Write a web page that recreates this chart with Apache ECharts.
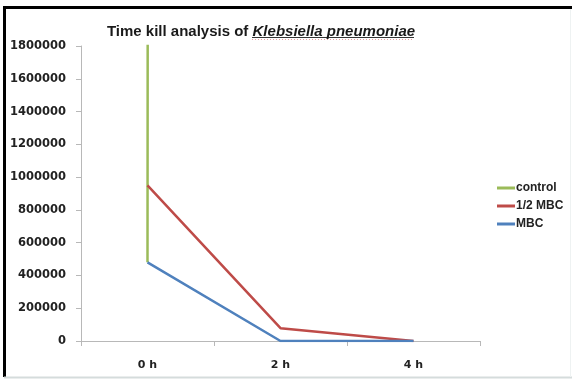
<!DOCTYPE html>
<html>
<head>
<meta charset="utf-8">
<script src="https://cdn.jsdelivr.net/npm/echarts@6/dist/echarts.min.js"></script>
<style>
html,body{margin:0;padding:0;background:#fff;}
#c{width:572px;height:379px;}
</style>
</head>
<body>
<div id="c"></div>
<script>
var categories = ['0 h', '2 h', '4 h'];
var controlValues = [480000, 1000000000, 1000000000];
var halfMbcValues = [950000, 78000, 0];
var mbcValues = [480000, 0, 0];
var yTicks = [0, 200000, 400000, 600000, 800000, 1000000, 1200000, 1400000, 1600000, 1800000];

var chart = echarts.init(document.getElementById('c'), null, {renderer: 'canvas'});
var labFont = '"DejaVu Sans", sans-serif';
var titleFont = '"Liberation Sans", Arial, sans-serif';
chart.setOption({
  animation: false,
  backgroundColor: '#fff',
  title: {
    text: '{a|Time kill analysis of }{b|Klebsiella pneumoniae}',
    left: 256, top: 19, textAlign: 'center',
    textStyle: {
      rich: {
        a: {fontFamily: titleFont, fontWeight: 'bold', fontSize: 15, color: '#1a1a1a'},
        b: {fontFamily: titleFont, fontWeight: 'bold', fontStyle: 'italic', fontSize: 15, color: '#1a1a1a'}
      }
    }
  },
  legend: {
    orient: 'vertical', left: 492, top: 177, itemGap: 6,
    itemWidth: 18, itemHeight: 3, icon: 'rect',
    textStyle: {fontFamily: titleFont, fontWeight: 'bold', fontSize: 12, color: '#222', padding: [0,0,0,-4]},
    data: ['control', '1/2 MBC', 'MBC']
  },
  grid: {left: 81, right: 92, top: 46, bottom: 38},
  xAxis: {
    type: 'category', data: categories, boundaryGap: true,
    axisLine: {lineStyle: {color: '#b8b8b8', width: 1}},
    axisTick: {show: true, alignWithLabel: false, length: 5, lineStyle: {color: '#b8b8b8'}},
    axisLabel: {fontFamily: labFont, fontWeight: 'bold', fontSize: 11, color: '#222', margin: 19}
  },
  yAxis: {
    type: 'value', min: 0, max: 1800000, interval: 200000,
    axisLine: {show: true, lineStyle: {color: '#b8b8b8', width: 1}},
    axisTick: {show: true, length: 5, lineStyle: {color: '#b8b8b8'}},
    splitLine: {show: false},
    axisLabel: {fontFamily: labFont, fontWeight: 'bold', fontSize: 11.5, color: '#222', margin: 15,
      formatter: function (v) { return yTicks.indexOf(v) >= 0 ? String(v) : ''; }}
  },
  series: [
    {name: 'control', type: 'line', data: controlValues, symbol: 'none', clip: true,
      lineStyle: {color: '#9bbb59', width: 2.5}, itemStyle: {color: '#9bbb59'}, z: 1},
    {name: '1/2 MBC', type: 'line', data: halfMbcValues, symbol: 'none',
      lineStyle: {color: '#be4b48', width: 2.5}, itemStyle: {color: '#be4b48'}, z: 2},
    {name: 'MBC', type: 'line', data: mbcValues, symbol: 'none',
      lineStyle: {color: '#4f81bd', width: 2.5}, itemStyle: {color: '#4f81bd'}, z: 3}
  ],
  graphic: [
    {type: 'line', shape: {x1: 4, y1: 7.5, x2: 572, y2: 7.5}, style: {stroke: '#000', lineWidth: 3}, silent: true},
    {type: 'line', shape: {x1: 4.5, y1: 6, x2: 4.5, y2: 377}, style: {stroke: '#000', lineWidth: 3}, silent: true},
    {type: 'line', shape: {x1: 4, y1: 377.5, x2: 572, y2: 377.5}, style: {stroke: '#d5dcdc', lineWidth: 2}, silent: true},
    {type: 'line', shape: {x1: 570.5, y1: 9, x2: 570.5, y2: 377}, style: {stroke: '#eef2f2', lineWidth: 1}, silent: true},
    {type: 'line', shape: {x1: 252, y1: 37.5, x2: 414, y2: 37.5}, style: {stroke: '#333', lineWidth: 1}, silent: true},
    {type: 'line', shape: {x1: 252, y1: 39.5, x2: 414, y2: 39.5}, style: {stroke: '#eaa0a0', lineWidth: 1, lineDash: [1, 2]}, silent: true}
  ]
});
</script>
</body>
</html>
